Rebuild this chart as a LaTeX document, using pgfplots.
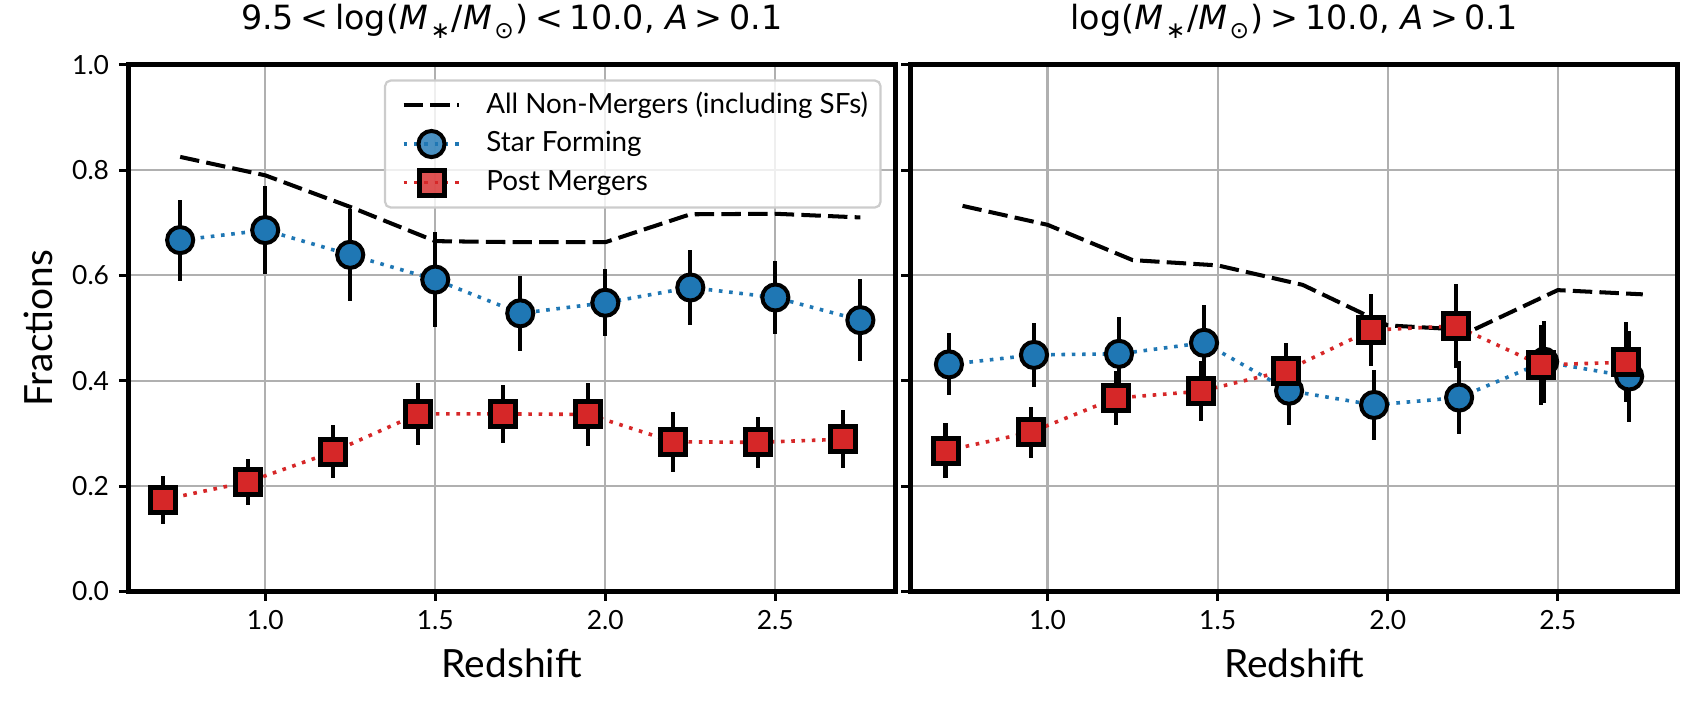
\documentclass[border=0pt]{standalone}
\usepackage{fontspec}
\setmainfont{Lato}
\newfontfamily\dejavu{DejaVu Sans}
\usepackage{pgfplots}
\usepackage{pgfplotstable}
\pgfplotsset{compat=1.18}
\definecolor{sfblue}{HTML}{1F77B4}
\definecolor{pmred}{HTML}{D62728}
\definecolor{gridgray}{HTML}{B0B0B0}
\definecolor{leggray}{HTML}{CCCCCC}

\newcommand{\msub}[1]{\hspace{0.08em}\raisebox{-0.25em}{\fontsize{8.4}{9}\selectfont #1}\hspace{0.05em}}
\newcommand{\rel}[1]{\hspace{0.2em}#1\hspace{0.2em}}

% ---------- left panel data ----------
\pgfplotstableread{
x y
0.75 0.825
1.00 0.790
1.25 0.730
1.50 0.665
1.75 0.663
2.00 0.663
2.25 0.716
2.50 0.717
2.75 0.710
}\leftall
\pgfplotstableread{
x y e
0.75 0.667 0.077
1.00 0.686 0.083
1.25 0.639 0.087
1.50 0.592 0.090
1.75 0.528 0.071
2.00 0.548 0.064
2.25 0.577 0.072
2.50 0.558 0.069
2.75 0.515 0.078
}\leftsf
\pgfplotstableread{
x y e
0.70 0.174 0.046
0.95 0.208 0.044
1.20 0.265 0.050
1.45 0.337 0.059
1.70 0.337 0.055
1.95 0.336 0.060
2.20 0.284 0.057
2.45 0.283 0.049
2.70 0.289 0.055
}\leftpm
% ---------- right panel data ----------
\pgfplotstableread{
x y
0.75 0.732
1.00 0.696
1.25 0.629
1.50 0.619
1.75 0.582
2.00 0.505
2.25 0.496
2.50 0.572
2.75 0.564
}\rightall
\pgfplotstableread{
x y e
0.71 0.431 0.059
0.96 0.449 0.060
1.21 0.451 0.070
1.46 0.472 0.072
1.71 0.381 0.065
1.96 0.354 0.067
2.21 0.368 0.069
2.46 0.436 0.078
2.71 0.408 0.086
}\rightsf
\pgfplotstableread{
x y e
0.70 0.267 0.052
0.95 0.302 0.049
1.20 0.367 0.052
1.45 0.380 0.057
1.70 0.419 0.052
1.95 0.496 0.069
2.20 0.504 0.080
2.45 0.430 0.076
2.70 0.435 0.076
}\rightpm

\pgfplotsset{
  panel/.style={
    scale only axis, width=276.1pt, height=189.6pt,
    xmin=0.5975, xmax=2.8525, ymin=0, ymax=1,
    xtick={1.0,1.5,2.0,2.5}, ytick={0,0.2,0.4,0.6,0.8,1.0},
    xticklabel style={/pgf/number format/.cd, fixed, fixed zerofill, precision=1},
    yticklabel style={/pgf/number format/.cd, fixed, fixed zerofill, precision=1},
    /pgf/number format/assume math mode=true,
    grid=major, grid style={gridgray, line width=0.8pt},
    axis line style={line width=1.8pt},
    tick align=outside, tick pos=left, major tick length=3.4pt,
    every tick/.style={black, line width=1.1pt},
    tick label style={font=\fontsize{9.5}{11}\selectfont},
    label style={font=\fontsize{14}{16}\selectfont},
    title style={font=\fontsize{12}{14}\selectfont\dejavu, at={(0.5,1)}, anchor=base, yshift=6.5pt},
    xlabel={Redshift},
    legend image code/.code={
      \path (-3.5pt,0pt) (27pt,0pt);
      \draw[mark repeat=2,mark phase=2,#1] plot coordinates {(0pt,0pt) (10pt,0pt) (20pt,0pt)};},
  },
  allstyle/.style={black, line width=1.45pt, dash pattern=on 7pt off 2.6pt, mark=none},
  sfstyle/.style={sfblue, line width=1.3pt, dash pattern=on 1.3pt off 2.4pt,
    mark=*, mark size=4.7pt, mark options={solid, draw=black, fill=sfblue, line width=1.45pt},
    error bars/.cd, y dir=both, y explicit, error mark=none,
    error bar style={solid, black, line width=1.5pt}},
  pmstyle/.style={pmred, line width=1.3pt, dash pattern=on 1.3pt off 2.4pt,
    mark=square*, mark size=4.5pt, mark options={solid, draw=black, fill=pmred, line width=1.8pt},
    error bars/.cd, y dir=both, y explicit, error mark=none,
    error bar style={solid, black, line width=1.5pt}},
}

\begin{document}
\begin{tikzpicture}
\begin{axis}[panel, at={(0pt,0pt)}, anchor=south west,
  ylabel={Fractions},
  title={9.5\rel{<}log(\textit{M}\msub{∗}/\textit{M}\msub{⊙})\rel{<}10.0, \textit{A}\rel{>}0.1},
  legend cell align=left,
  legend style={at={(1,1)}, anchor=north east, xshift=-4.9pt, yshift=-5.3pt,
    draw=leggray, line width=0.8pt, rounded corners=2pt, fill=white, fill opacity=0.8,
    text opacity=1, draw opacity=1, font=\fontsize{10}{12}\selectfont,
    inner xsep=2.5pt, inner ysep=2pt,
    nodes={text height=7.5pt, text depth=2pt, inner ysep=2.2pt}},
]
\addplot[allstyle] table[x=x,y=y] {\leftall};
\addlegendentry{All Non-Mergers (including SFs)}
\addplot[sfstyle] table[x=x,y=y,y error=e] {\leftsf};
\addlegendentry{Star Forming}
\addplot[pmstyle] table[x=x,y=y,y error=e] {\leftpm};
\addlegendentry{Post Mergers}
\end{axis}
\begin{axis}[panel, at={(281.66pt,0pt)}, anchor=south west,
  yticklabels={},
  title={log(\textit{M}\msub{∗}/\textit{M}\msub{⊙})\rel{>}10.0, \textit{A}\rel{>}0.1},
]
\addplot[allstyle] table[x=x,y=y] {\rightall};
\addplot[sfstyle] table[x=x,y=y,y error=e] {\rightsf};
\addplot[pmstyle] table[x=x,y=y,y error=e] {\rightpm};
\end{axis}
\pgfresetboundingbox
\path[use as bounding box] (-46.19pt,-41.26pt) rectangle (565.09pt,212.9pt);
\end{tikzpicture}
\end{document}
